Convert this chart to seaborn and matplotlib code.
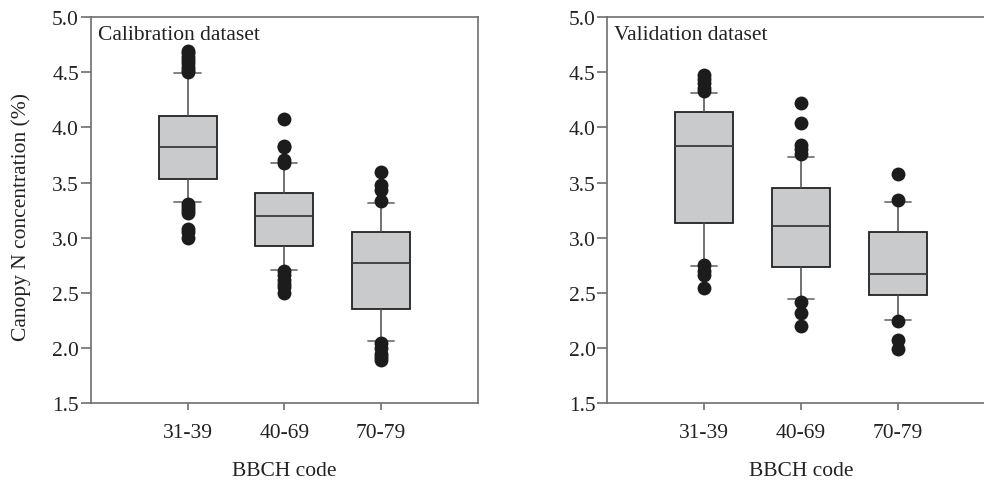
import matplotlib
matplotlib.use("Agg")
import matplotlib.pyplot as plt
import seaborn as sns
import pandas as pd

sns.set_style("ticks")
plt.rcParams['font.family'] = ['Liberation Serif', 'DejaVu Serif']

categories = ["31-39", "40-69", "70-79"]
y_ticks = [1.5, 2.0, 2.5, 3.0, 3.5, 4.0, 4.5, 5.0]

# Calibration dataset summary (10th pct, Q1, median, Q3, 90th pct)
cal_whislo = [3.32, 2.71, 2.065]
cal_q1 = [3.532, 2.928, 2.355]
cal_med = [3.825, 3.20, 2.771]
cal_q3 = [4.10, 3.403, 3.05]
cal_whishi = [4.49, 3.677, 3.312]
cal_fliers = [
    [4.69, 4.67, 4.64, 4.61, 4.58, 4.55, 4.52, 4.50,
     3.31, 3.28, 3.25, 3.22, 3.08, 3.05, 3.00],
    [4.076, 3.834, 3.82, 3.70, 3.68,
     2.70, 2.66, 2.62, 2.58, 2.55, 2.50],
    [3.60, 3.478, 3.43, 3.33,
     2.05, 2.00, 1.95, 1.92, 1.89],
]

# Validation dataset summary
val_whislo = [2.741, 2.445, 2.257]
val_q1 = [3.131, 2.738, 2.481]
val_med = [3.834, 3.106, 2.669]
val_q3 = [4.137, 3.45, 3.055]
val_whishi = [4.311, 3.734, 3.321]
val_fliers = [
    [4.47, 4.44, 4.40, 4.36, 4.33,
     2.75, 2.70, 2.66, 2.545],
    [4.221, 4.04, 3.84, 3.80, 3.76,
     2.42, 2.32, 2.198],
    [3.575, 3.342,
     2.248, 2.076, 1.992],
]

panels = [
    ("Calibration dataset", cal_whislo, cal_q1, cal_med, cal_q3, cal_whishi, cal_fliers),
    ("Validation dataset", val_whislo, val_q1, val_med, val_q3, val_whishi, val_fliers),
]

fig = plt.figure(figsize=(9.84, 4.85), dpi=100)
ax_rects = [[0.0922, 0.1664, 0.3936, 0.7965], [0.6172, 0.1664, 0.3936, 0.7965]]

box_face = "#c9cacc"
edge = "#222222"
spine_col = "#6e6e6e"
fs = 15.5

for i, (title, wlo, q1, med, q3, whi, fl) in enumerate(panels):
    ax = fig.add_axes(ax_rects[i])
    stats = []
    for j in range(3):
        stats.append(dict(whislo=wlo[j], q1=q1[j], med=med[j], q3=q3[j],
                          whishi=whi[j], fliers=[], label=categories[j]))
    ax.bxp(stats, positions=[1, 2, 3], widths=0.6, patch_artist=True,
           showfliers=False,
           boxprops=dict(facecolor=box_face, edgecolor=edge, linewidth=1.3),
           medianprops=dict(color="#3a3a3a", linewidth=1.3),
           whiskerprops=dict(color="#4a4a4a", linewidth=1.1),
           capprops=dict(color="#777777", linewidth=1.3),
           capwidths=0.27)
    xs, ys = [], []
    for j in range(3):
        for v in fl[j]:
            xs.append(j + 1)
            ys.append(v)
    df = pd.DataFrame({"x": xs, "y": ys})
    sns.scatterplot(data=df, x="x", y="y", ax=ax, color="#1c1c1c", s=100,
                    edgecolor="#1c1c1c", linewidth=0, zorder=5, legend=False)
    ax.set_xlim(0, 4)
    ax.set_ylim(1.5, 5.0)
    ax.set_xticks([1, 2, 3])
    ax.set_xticklabels(categories)
    ax.set_yticks(y_ticks)
    ax.set_yticklabels([f"{t:.1f}" for t in y_ticks])
    ax.tick_params(axis="both", labelsize=fs, colors="#222222", direction="out")
    ax.tick_params(axis="y", length=7, width=1.2, color=spine_col, pad=1.5)
    ax.tick_params(axis="x", length=5, width=1.2, color=spine_col, pad=9)
    for s in ["left", "bottom", "right", "top"]:
        ax.spines[s].set_visible(True)
        ax.spines[s].set_color(spine_col)
        ax.spines[s].set_linewidth(1.2)
    ax.set_xlabel("BBCH code", fontsize=fs, color="#222222", labelpad=14)
    if i == 0:
        ax.set_ylabel("Canopy N concentration (%)", fontsize=fs, color="#222222")
        ax.yaxis.set_label_coords(-0.155, 0.485)
    else:
        ax.set_ylabel("")
    ax.text(0.018, 0.98, title, transform=ax.transAxes, fontsize=fs,
            color="#222222", ha="left", va="top")

fig.savefig("out.png", dpi=100)
